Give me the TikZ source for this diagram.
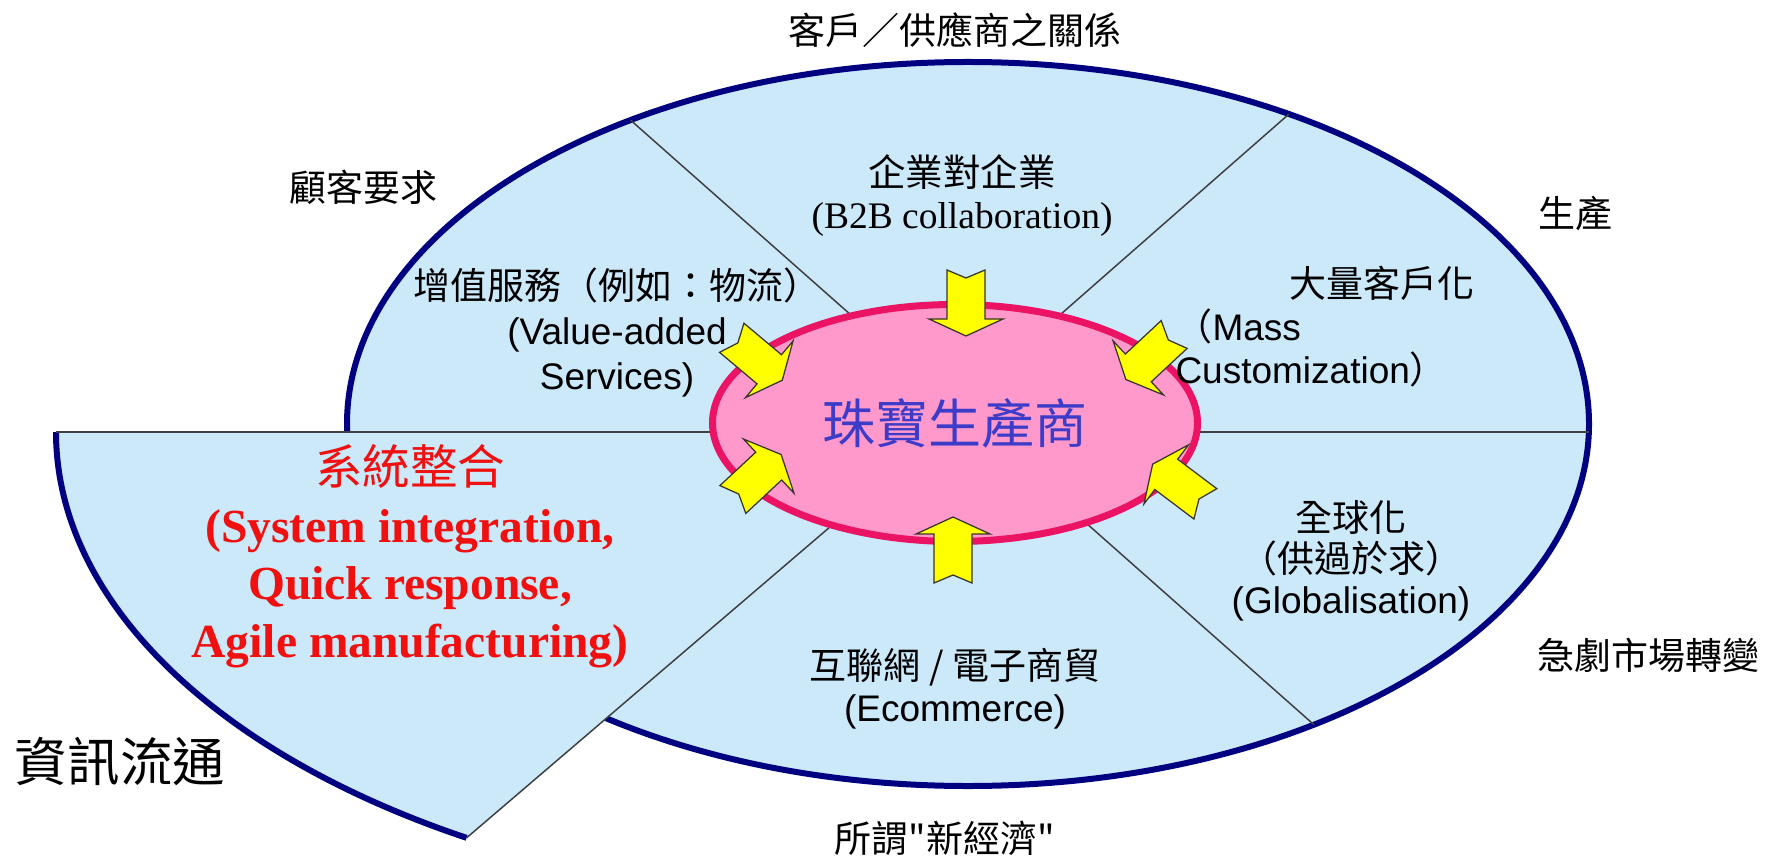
\documentclass[tikz,border=0pt]{standalone}
\usepackage{fontspec}
\setmainfont{Liberation Sans}
\newfontfamily\cjkfont{Noto Sans CJK TC}
\newfontfamily\timesfont{Liberation Serif}
\usetikzlibrary{shapes.geometric}

\definecolor{skyfill}{HTML}{CCE9FA}
\definecolor{navyline}{HTML}{000080}
\definecolor{pinkfill}{HTML}{FF99CC}
\definecolor{pinkline}{HTML}{EB1464}
\definecolor{makerblue}{HTML}{3C3CC8}
\definecolor{sysred}{HTML}{F01010}
\definecolor{arrowyellow}{HTML}{FFFF00}

\begin{document}
\begin{tikzpicture}[x=0.4pt, y=-0.4pt,
    divider/.style = {draw=black!75, line width=0.6pt},
    zh/.style = {font=\cjkfont\fontsize{14.8}{17}\selectfont, inner sep=0},
    en/.style = {font=\fontsize{14.8}{18}\selectfont, inner sep=0, align=center},
    arrowpart/.style = {fill=arrowyellow, draw=black!80!olive,
      line width=0.5pt, line join=miter},
    pics/notcharrow/.style = {code={
      \draw[arrowpart] (-33,-19) -- (16,-19) -- (16,-37) -- (33,0)
        -- (16,37) -- (16,19) -- (-33,19) -- (-25,0) -- cycle;}}]
  \useasboundingbox (0,0) rectangle (1765,865);

  \node (market) at (968,424) [ellipse, fill=skyfill, draw=navyline,
    line width=2.4pt, minimum width=496.8pt, minimum height=289.6pt,
    inner sep=0, outer sep=0] {};

  \coordinate (pieleft) at (56,432);
  \coordinate (piehub) at (955,420);
  \coordinate (hub) at (955,407);
  \fill[skyfill] (pieleft)
    arc[start angle=180, end angle=120.9, x radius=844, y radius=473]
    -- (piehub) -- (955,432) -- cycle;
  \draw[navyline, line width=2.4pt] (pieleft)
    arc[start angle=180, end angle=120.9, x radius=844, y radius=473]
    coordinate (pietip);

  \draw[divider] (pieleft) -- (market.east |- pieleft);
  \draw[divider] (pietip) -- (piehub);
  \draw[divider] (hub) -- (market.138);
  \draw[divider] (hub) -- (market.44);
  \draw[divider] (hub) -- (market.-41);

  \node (maker) at (955,423) [ellipse, fill=pinkfill, draw=pinkline,
    line width=2.8pt, minimum width=194pt, minimum height=94.8pt, inner sep=0,
    text=makerblue, font=\cjkfont\fontsize{21.2}{24}\selectfont] {珠寶生產商};

  \pic[rotate=-90] at (966,303) {notcharrow};
  \pic[rotate=90] at (953,550) {notcharrow};
  \pic[rotate=-40] at (757,359) {notcharrow};
  \pic[rotate=-137] at (1150,357) {notcharrow};
  \pic[rotate=43] at (757,477) {notcharrow};
  \pic[rotate=143] at (1179,484) {notcharrow};

  \node[zh] (relation) at (955,30) {客戶／供應商之關係};
  \node[zh] (custreq) at (363,187) {顧客要求};
  \node[zh] (production) at (1575,213) {生產};
  \node[zh] (marketchg) at (1648,655) {急劇市場轉變};
  \node[zh] (neweco) at (945,838) {所謂"新經濟"};
  \node[zh, font=\cjkfont\fontsize{21}{24}\selectfont] (infoflow) at (120,761) {資訊流通};

  \node[en, font=\timesfont\fontsize{15}{16.8}\selectfont] (b2b) at (962,196)
    {{\cjkfont 企業對企業}\\(B2B collaboration)};
  \node[en] (valueadd) at (617,332)
    {{\cjkfont 增值服務（例如：物流）}\\(Value-added\\Services)};
  \node[zh] (masscust) at (1382,283) {大量客戶化};
  \node[en, align=left, anchor=west, font=\fontsize{14.8}{17.2}\selectfont]
    (massline) at (1175,348) {{\cjkfont （}Mass\\Customization{\cjkfont ）}};
  \node[en, font=\fontsize{14.8}{16.4}\selectfont] (global) at (1351,561)
    {{\cjkfont 全球化}\\{\cjkfont （供過於求）}\\(Globalisation)};
  \node[en, font=\fontsize{14.8}{16.8}\selectfont] (ecom) at (955,689)
    {{\cjkfont 互聯網 / 電子商貿}\\(Ecommerce)};
  \node[en, text=sysred, font=\timesfont\bfseries\fontsize{19}{23}\selectfont]
    (sysint) at (410,556) {{\mdseries\cjkfont 系統整合}\\(System integration,\\
    Quick response,\\Agile manufacturing)};
\end{tikzpicture}
\end{document}
